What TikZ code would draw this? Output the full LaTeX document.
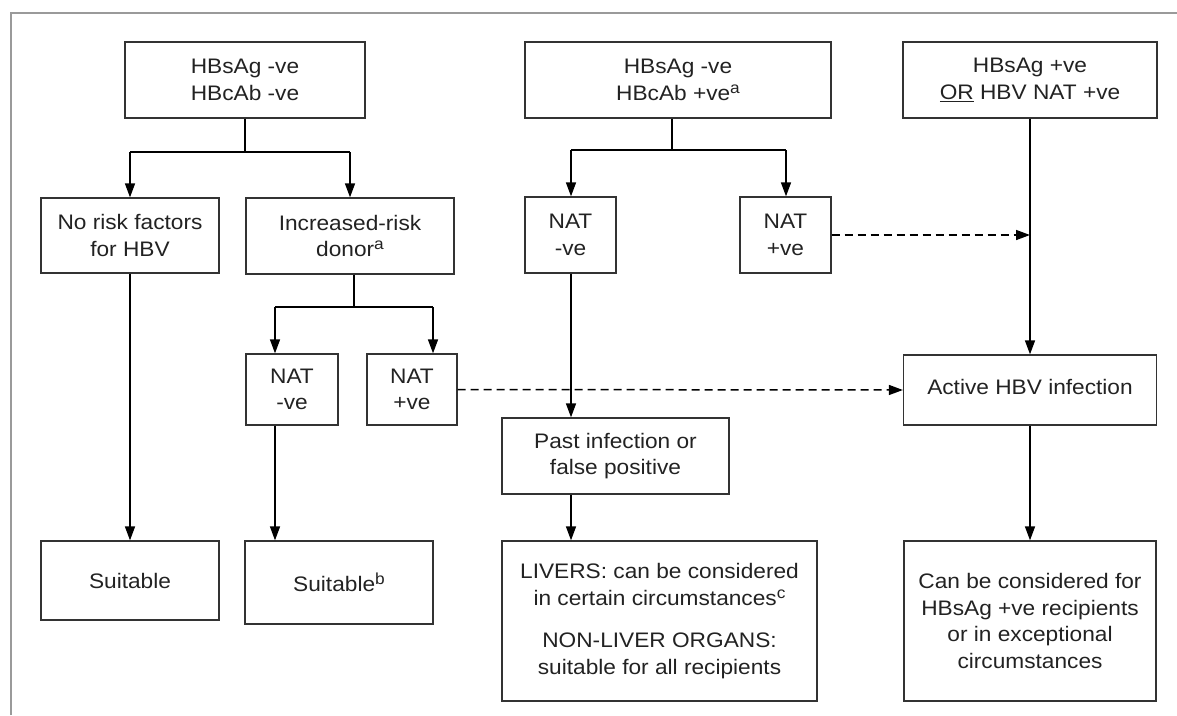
\documentclass[tikz,border=0pt]{standalone}
\usepackage{fontspec}
\setmainfont[FakeStretch=1.08]{Liberation Sans}
\usetikzlibrary{arrows.meta}
\definecolor{boxc}{HTML}{333333}
\definecolor{framec}{HTML}{9A9A9A}
\definecolor{txtc}{HTML}{222222}
\newcommand{\sups}[1]{\raisebox{7pt}{\fontsize{16}{16}\selectfont #1}}
\begin{document}
\begin{tikzpicture}[x=1pt,y=-1pt,
  box/.style={draw=boxc, line width=1.3pt, inner sep=0pt, align=center, text=txtc,
    font=\fontsize{21}{26.5}\selectfont},
  ln/.style={line width=1.5pt, black},
  arr/.style={ln, -{Triangle[length=14pt,width=10pt]}},
  dasharr/.style={arr, dash pattern=on 8pt off 5pt}]
\useasboundingbox (0,0) rectangle (1177,715);
\draw[framec, line width=2pt] (10.5,715) -- (10.5,12.5) -- (1177,12.5);

% top row
\node[box, minimum width=240pt, minimum height=76pt] (b1) at (245,80) {HBsAg -ve\\HBcAb -ve};
\node[box, minimum width=306pt, minimum height=76pt] (b2) at (678,80) {HBsAg -ve\\HBcAb +ve\sups{a}};
\node[box, minimum width=254pt, minimum height=76pt] (b3) at (1030,80) {HBsAg +ve\\\underline{OR} HBV NAT +ve};

% second row
\node[box, minimum width=178pt, minimum height=75pt] (norisk) at (130,235.5) {No risk factors\\for HBV};
\node[box, minimum width=208pt, minimum height=76pt] (incr) at (350,236) {Increased-risk\\donor\sups{a}};
\node[box, minimum width=91pt, minimum height=76pt] (natneg2) at (570.5,235) {NAT\\-ve};
\node[box, minimum width=91pt, minimum height=76pt] (natpos2) at (785.5,235) {NAT\\+ve};

% third row
\node[box, minimum width=92pt, minimum height=71pt] (natneg1) at (292,389.5) {NAT\\-ve};
\node[box, minimum width=90pt, minimum height=71pt] (natpos1) at (412,389.5) {NAT\\+ve};
\node[box, minimum width=253pt, minimum height=70pt] (active) at (1030,390) {\raisebox{6pt}{Active HBV infection}};
\node[box, minimum width=227pt, minimum height=76pt] (past) at (615.5,456) {Past infection or\\false positive};

% bottom row
\node[box, minimum width=178pt, minimum height=79pt] (suit1) at (130,580.5) {Suitable};
\node[box, minimum width=188pt, minimum height=83pt] (suit2) at (339,582.5) {Suitable\sups{b}};
\node[box, minimum width=315pt, minimum height=160pt] (livers) at (659.5,621) {LIVERS: can be considered\\in certain circumstances\sups{c}\\[16pt]NON-LIVER ORGANS:\\suitable for all recipients};
\node[box, minimum width=252pt, minimum height=160pt] (cbc) at (1030,621) {Can be considered for\\HBsAg +ve recipients\\or in exceptional\\circumstances};

% junctions
\coordinate (j1) at (245,152);
\coordinate (j1l) at (130,152);
\coordinate (j1r) at (350,152);
\coordinate (j2) at (354,307);
\coordinate (j2l) at (275,307);
\coordinate (j2r) at (433,307);
\coordinate (j3) at (672,150);
\coordinate (j3l) at (571,150);
\coordinate (j3r) at (786,150);

% left branch
\draw[ln] (b1.south) -- (j1);
\draw[ln] (j1l) -- (j1r);
\draw[arr] (j1l) -- (norisk.north);
\draw[arr] (j1r) -- (incr.north);
\draw[arr] (norisk.south) -- (suit1.north);

\draw[ln] (j2 |- incr.south) -- (j2);
\draw[ln] (j2l) -- (j2r);
\draw[arr] (j2l) -- (j2l |- natneg1.north);
\draw[arr] (j2r) -- (j2r |- natpos1.north);
\draw[arr] (j2l |- natneg1.south) -- (j2l |- suit2.north);
\draw[dasharr] (natpos1.east) -- (active.west);

% middle branch
\draw[ln] (j3 |- b2.south) -- (j3);
\draw[ln] (j3l) -- (j3r);
\draw[arr] (j3l) -- (j3l |- natneg2.north);
\draw[arr] (j3r) -- (j3r |- natpos2.north);
\draw[arr] (j3l |- natneg2.south) -- (j3l |- past.north);
\draw[arr] (j3l |- past.south) -- (j3l |- livers.north);
\draw[dasharr] (natpos2.east) -- (natpos2.east -| b3.south);

% right branch
\draw[arr] (b3.south) -- (active.north);
\draw[arr] (active.south) -- (cbc.north);
\end{tikzpicture}
\end{document}
